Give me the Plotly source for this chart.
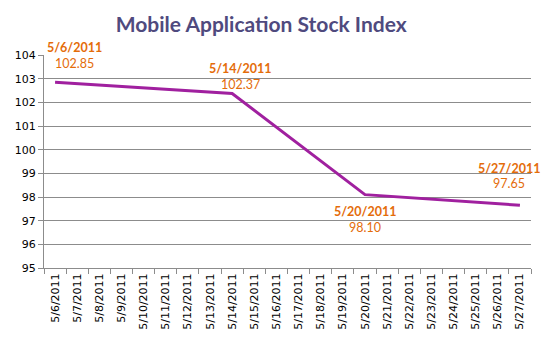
import plotly.graph_objects as go

all_dates = ["5/%d/2011" % d for d in range(6, 28)]
point_dates = ["5/6/2011", "5/14/2011", "5/20/2011", "5/27/2011"]
point_values = [102.85, 102.37, 98.10, 97.65]
y_ticks = list(range(95, 105))

orange = "#E46C0A"
purple = "#A0209F"
grid = "#8C8C8C"

fig = go.Figure()
fig.add_trace(go.Scatter(x=point_dates, y=point_values, mode="lines",
                         line=dict(color=purple, width=3), hoverinfo="x+y"))

# label offsets (px): value yshift, date yshift, xshift
offsets = [(19, 35, 19), (9, 25, 8), (-33, -17, 0), (22, 37, -11)]
for d, v, (vy, dy, dx) in zip(point_dates, point_values, offsets):
    fig.add_annotation(x=d, y=v, xref="x", yref="y", text="<b>%s</b>" % d, showarrow=False,
                       xshift=dx, yshift=dy, font=dict(family="Lato, Liberation Sans", size=12.5, color=orange))
    fig.add_annotation(x=d, y=v, xref="x", yref="y", text="%.2f" % v, showarrow=False,
                       xshift=dx, yshift=vy, font=dict(family="Lato, Liberation Sans", size=12.5, color=orange))

fig.update_layout(
    width=542, height=352,
    margin=dict(l=44, r=11, t=55, b=84),
    paper_bgcolor="white", plot_bgcolor="white",
    showlegend=False,
    title=dict(text="<b>Mobile Application Stock Index</b>", x=0.482, xanchor="center", y=0.93, yanchor="middle",
               font=dict(family="Lato, Liberation Sans", size=21, color="#4F4A7E")),
    xaxis=dict(type="category", categoryorder="array", categoryarray=all_dates,
               tickvals=all_dates, ticktext=all_dates, range=[-0.5, len(all_dates) - 0.5],
               tickson="boundaries", ticks="outside", ticklen=5, tickcolor=grid,
               showgrid=False, showline=True, linecolor=grid, linewidth=1,
               tickangle=-90, tickfont=dict(family="DejaVu Sans", size=11, color="black")),
    yaxis=dict(range=[95, 104], tickvals=y_ticks, ticks="outside", ticklen=5, tickcolor=grid,
               showgrid=True, gridcolor=grid, gridwidth=1, showline=True, linecolor=grid,
               zeroline=False, tickfont=dict(family="DejaVu Sans", size=11, color="black")),
)
fig.write_html("out.html")
